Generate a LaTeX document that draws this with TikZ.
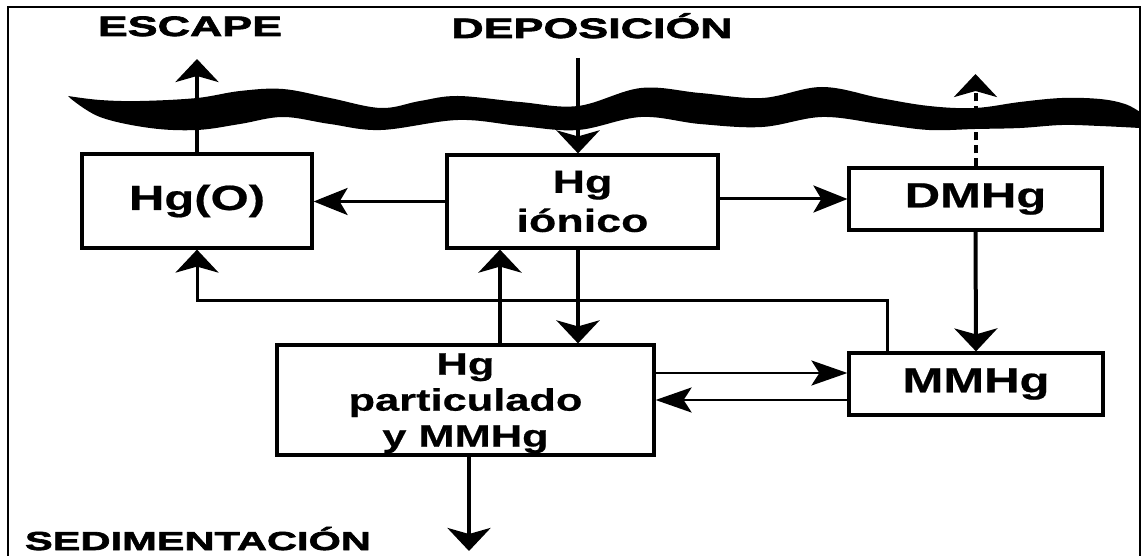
\documentclass[tikz,border=0pt]{standalone}
\usepackage{fontspec}
\usetikzlibrary{arrows.meta,calc}
\newfontfamily\boxfont{Liberation Sans}[FakeStretch=1.4,FakeBold=0.6]
\newfontfamily\labfont{Liberation Sans}[FakeStretch=1.6,FakeBold=2.5]
\begin{document}
\begin{tikzpicture}[x=1pt,y=-1pt,
  box/.style={draw, line width=3.2pt, inner sep=0pt, align=center},
  boxfs/.style n args={2}{font=\boxfont\bfseries\fontsize{#1}{#2}\selectfont},
  lab/.style={inner sep=0pt, anchor=base},
  labfs/.style={font=\labfont\bfseries\fontsize{#1}{#1}\selectfont},
  varr/.style={line width=4pt, -{Stealth[length=23pt,width=43pt,inset=6pt]}},
  harr/.style={line width=3pt, -{Stealth[length=34pt,width=27pt,inset=8pt]}},
  thinarr/.style={line width=2.6pt, -{Stealth[length=36pt,width=25pt,inset=8pt]}},
  frame/.style={line width=2pt},
  wave/.style={fill=black}
]
\useasboundingbox (0,0) rectangle (1144,556);
% frame
\draw[frame] (8,556) -- (8,7) -- (1140,7) -- (1140,556);

% labels
\node[lab, labfs=28] (esc) at (190,36) {ESCAPE};
\node[lab, labfs=28] (dep) at (592,38) {DEPOSICIÓN};
\node[lab, labfs=26] (sed) at (198,550) {SEDIMENTACIÓN};

% boxes
\node[box, boxfs={35}{42}, minimum width=230pt, minimum height=94pt] (hgo) at (197,201) {Hg(O)};
\node[box, boxfs={32}{39}, minimum width=271pt, minimum height=93pt] (ion) at (582.5,201.5) {Hg\\iónico};
\node[box, boxfs={35}{42}, minimum width=253pt, minimum height=62pt] (dmhg) at (975.5,199) {DMHg};
\node[box, boxfs={35}{42}, minimum width=254pt, minimum height=62pt] (mmhg) at (976,384) {MMHg};
\node[box, boxfs={31}{36}, minimum width=377pt, minimum height=110pt, text depth=-8pt] (part) at (465.5,400) {Hg\\particulado\\y MMHg};

% free ends
\coordinate (esctip) at (197,59);
\coordinate (depsrc) at (578,58);
\coordinate (dmtip) at (975.5,74);
\coordinate (upx) at (500,0);
\coordinate (loopc) at (887,301);
\coordinate (p2m) at (0,373);
\coordinate (m2p) at (0,400);
\coordinate (sedtip) at (469,551);

% connectors
\draw[varr] (hgo.north) -- (esctip);
\draw[varr] (depsrc) -- (depsrc |- ion.north);
\draw[harr] (ion.west) -- (ion.west -| hgo.east);
\draw[harr] (ion.east |- dmhg.west) -- (dmhg.west);
\draw[varr, dash pattern=on 8pt off 5pt] (dmhg.north) -- (dmtip);
\draw[varr] (dmhg.south) -- (mmhg.north);
\draw[varr] (ion.south -| depsrc) -- (part.north -| depsrc);
\draw[varr] (part.north -| upx) -- (ion.south -| upx);
\draw[varr, line width=3pt] (mmhg.north -| loopc) -- (loopc) -| (hgo.south);
\draw[thinarr] (part.east |- p2m) -- (mmhg.west |- p2m);
\draw[thinarr] (mmhg.west |- m2p) -- (part.east |- m2p);
\draw[varr] (part.south -| sedtip) -- (sedtip);

% water surface
\fill[wave] plot[smooth, tension=0.6] coordinates {(68,96) (100,100) (140,101) (197,98) (240,91) (283,89) (330,98) (381,108) (420,101) (458,96) (520,102) (578,106) (641,88) (700,93) (762,98) (822,87) (880,98) (929,106) (975,108) (1020,102) (1062,98) (1100,99) (1125,104) (1140,112)}
  -- plot[smooth, tension=0.6] coordinates {(1140,128) (1100,126) (1062,125) (1020,128) (975,129) (929,130) (880,124) (822,117) (762,127) (700,124) (641,117) (578,130) (520,126) (458,120) (381,130) (330,124) (283,117) (240,124) (197,130) (150,128) (100,117) (70,98)} -- cycle;
\end{tikzpicture}
\end{document}
